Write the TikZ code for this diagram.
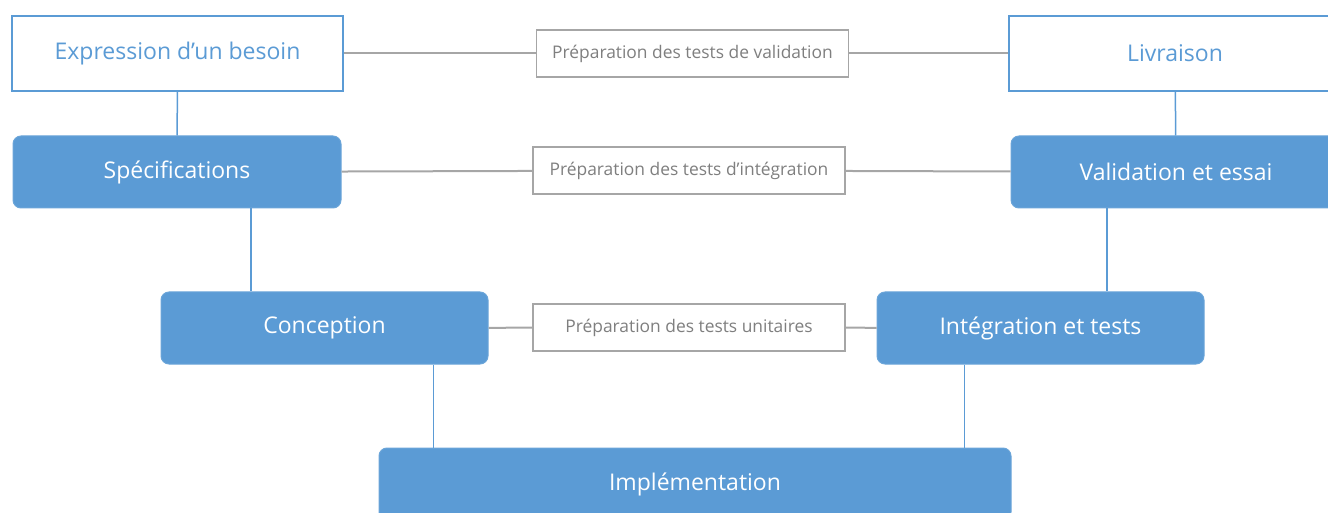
\documentclass[tikz,border=0pt]{standalone}
\usepackage{fontspec}
\setmainfont{Open Sans}
\usetikzlibrary{positioning,calc}

\definecolor{vblue}{HTML}{5B9BD5}
\definecolor{vgray}{HTML}{A6A6A6}
\definecolor{vtext}{HTML}{7F7F7F}

\tikzset{
	phase/.style={draw=vblue, fill=white, text=vblue, line width=0.75pt,
		minimum height=37.5pt, font=\fontsize{11.5}{13}\selectfont},
	step box/.style={draw=vblue!90!white, fill=vblue, text=white, rounded corners=4pt,
		line width=0.5pt, minimum height=36pt, font=\fontsize{11.5}{13}\selectfont},
	prep/.style={draw=vgray, fill=white, text=vtext, line width=0.75pt,
		minimum width=156pt, minimum height=23.5pt, font=\fontsize{8.7}{10}\selectfont},
	vlink/.style={draw=vblue, line width=0.75pt},
	hlink/.style={draw=vgray, line width=1pt}
}

\begin{document}
\begin{tikzpicture}[x=0.5pt, y=-0.5pt]
	\useasboundingbox (0,0) rectangle (1328,513);

	% cycle en V
	\node[phase, minimum width=165.5pt] (besoin) at (177.5,53.5) {Expression d’un besoin};
	\node[phase, minimum width=166pt] (livraison) at (1175,53.5) {Livraison};
	\node[step box, minimum width=164pt] (specs) at (177,172) {Spécifications};
	\node[step box, minimum width=165pt] (valid) at (1176,172) {Validation et essai};
	\node[step box, minimum width=163.5pt] (concep) at (324.5,328) {Conception};
	\node[step box, minimum width=163.5pt] (integ) at (1040.5,328) {Intégration et tests};
	\node[step box, minimum width=316pt] (implem) at (695,484) {Implémentation};

	% tests
	\node[prep] (pval) at (692.5,53.5) {Préparation des tests de validation};
	\node[prep] (pint) at (689,170.5) {Préparation des tests d’intégration};
	\node[prep] (punit) at (689,327.5) {Préparation des tests unitaires};

	\draw[hlink] (besoin) -- (pval) -- (livraison);
	\draw[hlink] (specs) -- (pint) -- (valid);
	\draw[hlink] (concep) -- (punit) -- (integ);

	\draw[vlink] (besoin) -- (specs);
	\draw[vlink] (livraison) -- (valid);
	\draw[vlink] ([xshift=37pt]specs.south) -- ([xshift=37pt]specs.south |- concep.north);
	\draw[vlink] ([xshift=54.5pt]concep.south) -- ([xshift=54.5pt]concep.south |- implem.north);
	\draw[vlink] ([xshift=-34.5pt]valid.south) -- ([xshift=-34.5pt]valid.south |- integ.north);
	\draw[vlink] ([xshift=-38pt]integ.south) -- ([xshift=-38pt]integ.south |- implem.north);
\end{tikzpicture}
\end{document}
